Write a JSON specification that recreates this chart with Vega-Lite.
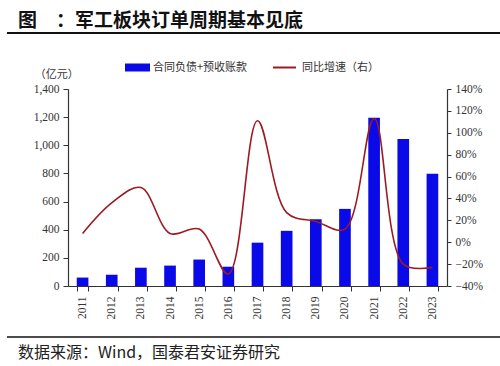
{
  "$schema": "https://vega.github.io/schema/vega-lite/v6.json",
  "width": 379,
  "height": 197,
  "autosize": "none",
  "padding": {"left": 68, "top": 89, "right": 53, "bottom": 80},
  "background": "white",
  "config": {"view": {"stroke": null}, "font": "Noto Sans CJK SC"},
  "data": {"values": [
    {"year": "2011", "v": 60, "g": 0.08},
    {"year": "2012", "v": 80, "g": 0.36},
    {"year": "2013", "v": 130, "g": 0.50},
    {"year": "2014", "v": 145, "g": 0.08},
    {"year": "2015", "v": 188, "g": 0.12},
    {"year": "2016", "v": 137, "g": -0.29},
    {"year": "2017", "v": 308, "g": 1.11},
    {"year": "2018", "v": 392, "g": 0.27},
    {"year": "2019", "v": 474, "g": 0.19},
    {"year": "2020", "v": 548, "g": 0.12},
    {"year": "2021", "v": 1195, "g": 1.13},
    {"year": "2022", "v": 1045, "g": -0.20},
    {"year": "2023", "v": 797, "g": -0.23}
  ]},
  "layer": [
    {
      "layer": [
        {
          "mark": {"type": "bar"},
          "encoding": {
            "x": {"field": "year", "type": "ordinal",
              "scale": {"paddingInner": 0.6, "paddingOuter": 0.3},
              "axis": {"title": null, "labelAngle": -90, "labelFont": "Liberation Serif", "labelFontSize": 11.5, "labelColor": "#333", "labelPadding": 5, "tickBand": "extent", "tickSize": 5, "tickColor": "#333", "domainColor": "#333", "domainWidth": 1.2, "tickWidth": 1}},
            "y": {"field": "v", "type": "quantitative",
              "scale": {"domain": [0, 1400], "nice": false},
              "axis": {"title": null, "values": [0, 200, 400, 600, 800, 1000, 1200, 1400], "format": ",.0f", "grid": false, "labelFont": "Liberation Serif", "labelFontSize": 11.5, "labelColor": "#333", "labelPadding": 4, "tickSize": 5, "tickColor": "#333", "domainColor": "#333", "domainWidth": 1.2}},
            "color": {"datum": "合同负债+预收账款", "scale": {"range": ["#0A0AE8"]},
              "legend": {"title": null, "orient": "none", "legendX": 57, "legendY": -34, "symbolType": "M-1,-0.32H1V0.32H-1Z", "symbolSize": 625, "symbolStrokeWidth": 0, "symbolOpacity": 1, "labelFontSize": 11, "labelColor": "#333", "labelOffset": 3}}
          }
        },
        {
          "mark": {"type": "line", "interpolate": "catmull-rom", "strokeWidth": 1.6},
          "encoding": {
            "x": {"field": "year", "type": "ordinal"},
            "y": {"field": "g", "type": "quantitative",
              "scale": {"domain": [-0.4, 1.4], "nice": false},
              "axis": {"title": null, "orient": "right", "values": [-0.4, -0.2, 0, 0.2, 0.4, 0.6, 0.8, 1.0, 1.2, 1.4], "format": ".0%", "grid": false, "labelFont": "Liberation Serif", "labelFontSize": 11.5, "labelColor": "#333", "labelPadding": 4, "tickSize": 4, "tickColor": "#333", "domainColor": "#333", "domainWidth": 1.2}},
            "stroke": {"datum": "同比增速（右）", "scale": {"range": ["#9B1B24"]},
              "legend": {"title": null, "orient": "none", "legendX": 204, "legendY": -34, "symbolType": "stroke", "symbolSize": 529, "symbolStrokeWidth": 2, "labelFontSize": 11, "labelColor": "#333", "labelOffset": 5}}
          }
        }
      ],
      "resolve": {"scale": {"y": "independent"}}
    },
    {
      "data": {"values": [{"k": "decor"}]},
      "layer": [
        {
          "mark": {"type": "rule", "color": "#111", "strokeWidth": 2},
          "encoding": {
            "x": {"datum": -0.161, "type": "quantitative", "scale": {"domain": [0, 1], "nice": false, "zero": false}, "axis": null},
            "x2": {"datum": 1.14},
            "y": {"datum": 1.284, "type": "quantitative", "scale": {"domain": [0, 1], "nice": false, "zero": false}, "axis": null}
          }
        },
        {
          "mark": {"type": "rule", "color": "#111", "strokeWidth": 1.5},
          "encoding": {
            "x": {"datum": -0.161, "type": "quantitative"},
            "x2": {"datum": 1.14},
            "y": {"datum": -0.259, "type": "quantitative"}
          }
        },
        {
          "mark": {"type": "text", "align": "left", "baseline": "middle", "fontSize": 19, "fontWeight": "bold", "color": "#111", "text": "图　：军工板块订单周期基本见底"},
          "encoding": {
            "x": {"datum": -0.132, "type": "quantitative"},
            "y": {"datum": 1.345, "type": "quantitative"}
          }
        },
        {
          "mark": {"type": "text", "align": "left", "baseline": "middle", "fontSize": 16, "color": "#222", "text": "数据来源：Wind，国泰君安证券研究"},
          "encoding": {
            "x": {"datum": -0.132, "type": "quantitative"},
            "y": {"datum": -0.34, "type": "quantitative"}
          }
        },
        {
          "mark": {"type": "text", "align": "center", "baseline": "middle", "fontSize": 11, "color": "#333", "text": "（亿元）"},
          "encoding": {
            "x": {"datum": -0.03, "type": "quantitative"},
            "y": {"datum": 1.071, "type": "quantitative"}
          }
        }
      ]
    }
  ],
  "resolve": {"scale": {"x": "independent", "y": "independent"}}
}
